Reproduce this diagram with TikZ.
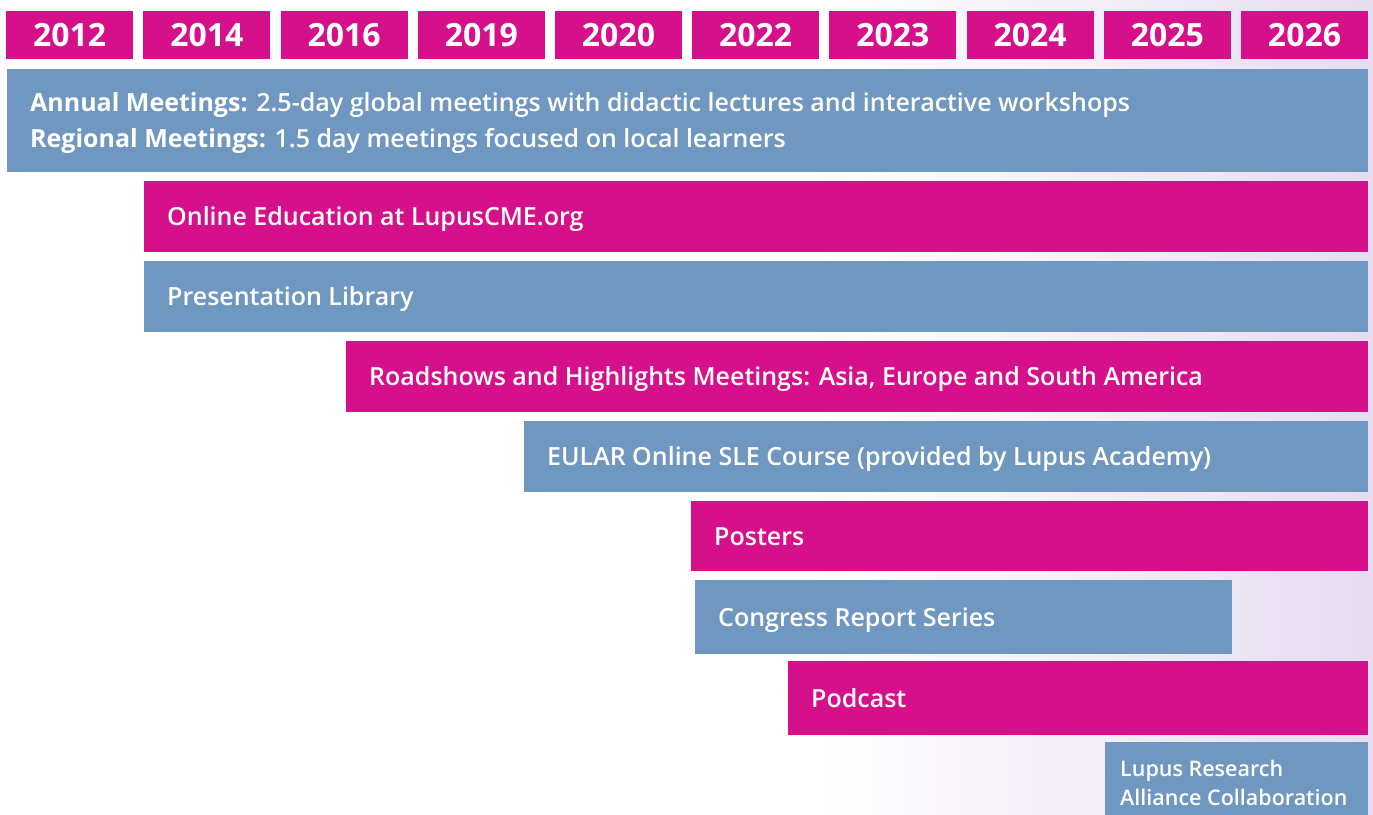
\documentclass[tikz,border=0pt]{standalone}
\usepackage{fontspec}
\setmainfont{Open Sans}
\IfFontExistsTF{Open Sans Semibold}{\newfontfamily\semib{Open Sans Semibold}}{\newfontfamily\semib{Open Sans}[FakeBold=1.5]}
\definecolor{lpink}{HTML}{D6108A}
\definecolor{lblue}{HTML}{6F97C0}
\definecolor{lav}{HTML}{E6DCF0}
\begin{document}
\begin{tikzpicture}[x=1pt,y=-1pt,
  yearbox/.style={fill=lpink, draw=none, anchor=north west, minimum width=127pt, minimum height=47.7pt, inner sep=0pt, text=white, font=\bfseries\fontsize{32}{32}\selectfont, text height=23.3pt, text depth=0pt},
  barbox/.style={draw=none, anchor=north west, inner sep=0pt},
  pinkbar/.style={barbox, fill=lpink},
  bluebar/.style={barbox, fill=lblue},
  lbl/.style={anchor=base west, inner sep=0pt, text=white, font=\semib\fontsize{25}{30}\selectfont},
  lblsmall/.style={anchor=base west, inner sep=0pt, text=white, font=\semib\fontsize{21.5}{26}\selectfont}
]
\useasboundingbox (0,0) rectangle (1373,814);
\fill[white] (0,0) rectangle (1373,814);
\shade[left color=white, right color=lav] (820,0) rectangle (1373,814);

% year boxes
\foreach \yr [count=\i from 0] in {2012,2014,2016,2019,2020,2022,2023,2024,2025,2026}{
  \node[yearbox] (y\yr) at ({6+\i*137.2},11) {\yr};
}

% bars
\node[bluebar, minimum width=1361pt, minimum height=102.7pt] (annual) at (7,69) {};
\node[pinkbar, minimum width=1224pt, minimum height=70.7pt] (online) at (144,181) {};
\node[bluebar, minimum width=1224pt, minimum height=70.7pt] (library) at (144,261) {};
\node[pinkbar, minimum width=1022pt, minimum height=70.7pt] (roadshows) at (346,341) {};
\node[bluebar, minimum width=844pt, minimum height=70.7pt] (eular) at (524,421) {};
\node[pinkbar, minimum width=677pt, minimum height=70.5pt] (posters) at (691,500.5) {};
\node[bluebar, minimum width=537pt, minimum height=73.7pt] (congress) at (695,580) {};
\node[pinkbar, minimum width=580pt, minimum height=73.7pt] (podcast) at (788,661) {};
\node[bluebar, minimum width=263pt, minimum height=80pt] (lra) at (1105,742) {};

% labels
\node[lbl] (annual-t1) at ([shift={(23,42.7)}]annual.north west) {{\fontspec{Open Sans}\bfseries Annual Meetings:} 2.5-day global meetings with didactic lectures and interactive workshops};
\node[lbl] (annual-t2) at ([shift={(23,78.3)}]annual.north west) {{\fontspec{Open Sans}\bfseries Regional Meetings:} 1.5 day meetings focused on local learners};
\node[lbl] (online-t) at ([shift={(23,9.3)}]online.west) {Online Education at LupusCME.org};
\node[lbl] (library-t) at ([shift={(23,9.3)}]library.west) {Presentation Library};
\node[lbl] (roadshows-t) at ([shift={(23,9.3)}]roadshows.west) {Roadshows and Highlights Meetings: Asia, Europe and South America};
\node[lbl] (eular-t) at ([shift={(23,9.3)}]eular.west) {EULAR Online SLE Course (provided by Lupus Academy)};
\node[lbl] (posters-t) at ([shift={(23,9.3)}]posters.west) {Posters};
\node[lbl] (congress-t) at ([shift={(23,9.3)}]congress.west) {Congress Report Series};
\node[lbl] (podcast-t) at ([shift={(23,9.3)}]podcast.west) {Podcast};
\node[lblsmall] (lra-t1) at ([shift={(15,34)}]lra.north west) {Lupus Research};
\node[lblsmall] (lra-t2) at ([shift={(15,63)}]lra.north west) {Alliance Collaboration};
\end{tikzpicture}
\end{document}
